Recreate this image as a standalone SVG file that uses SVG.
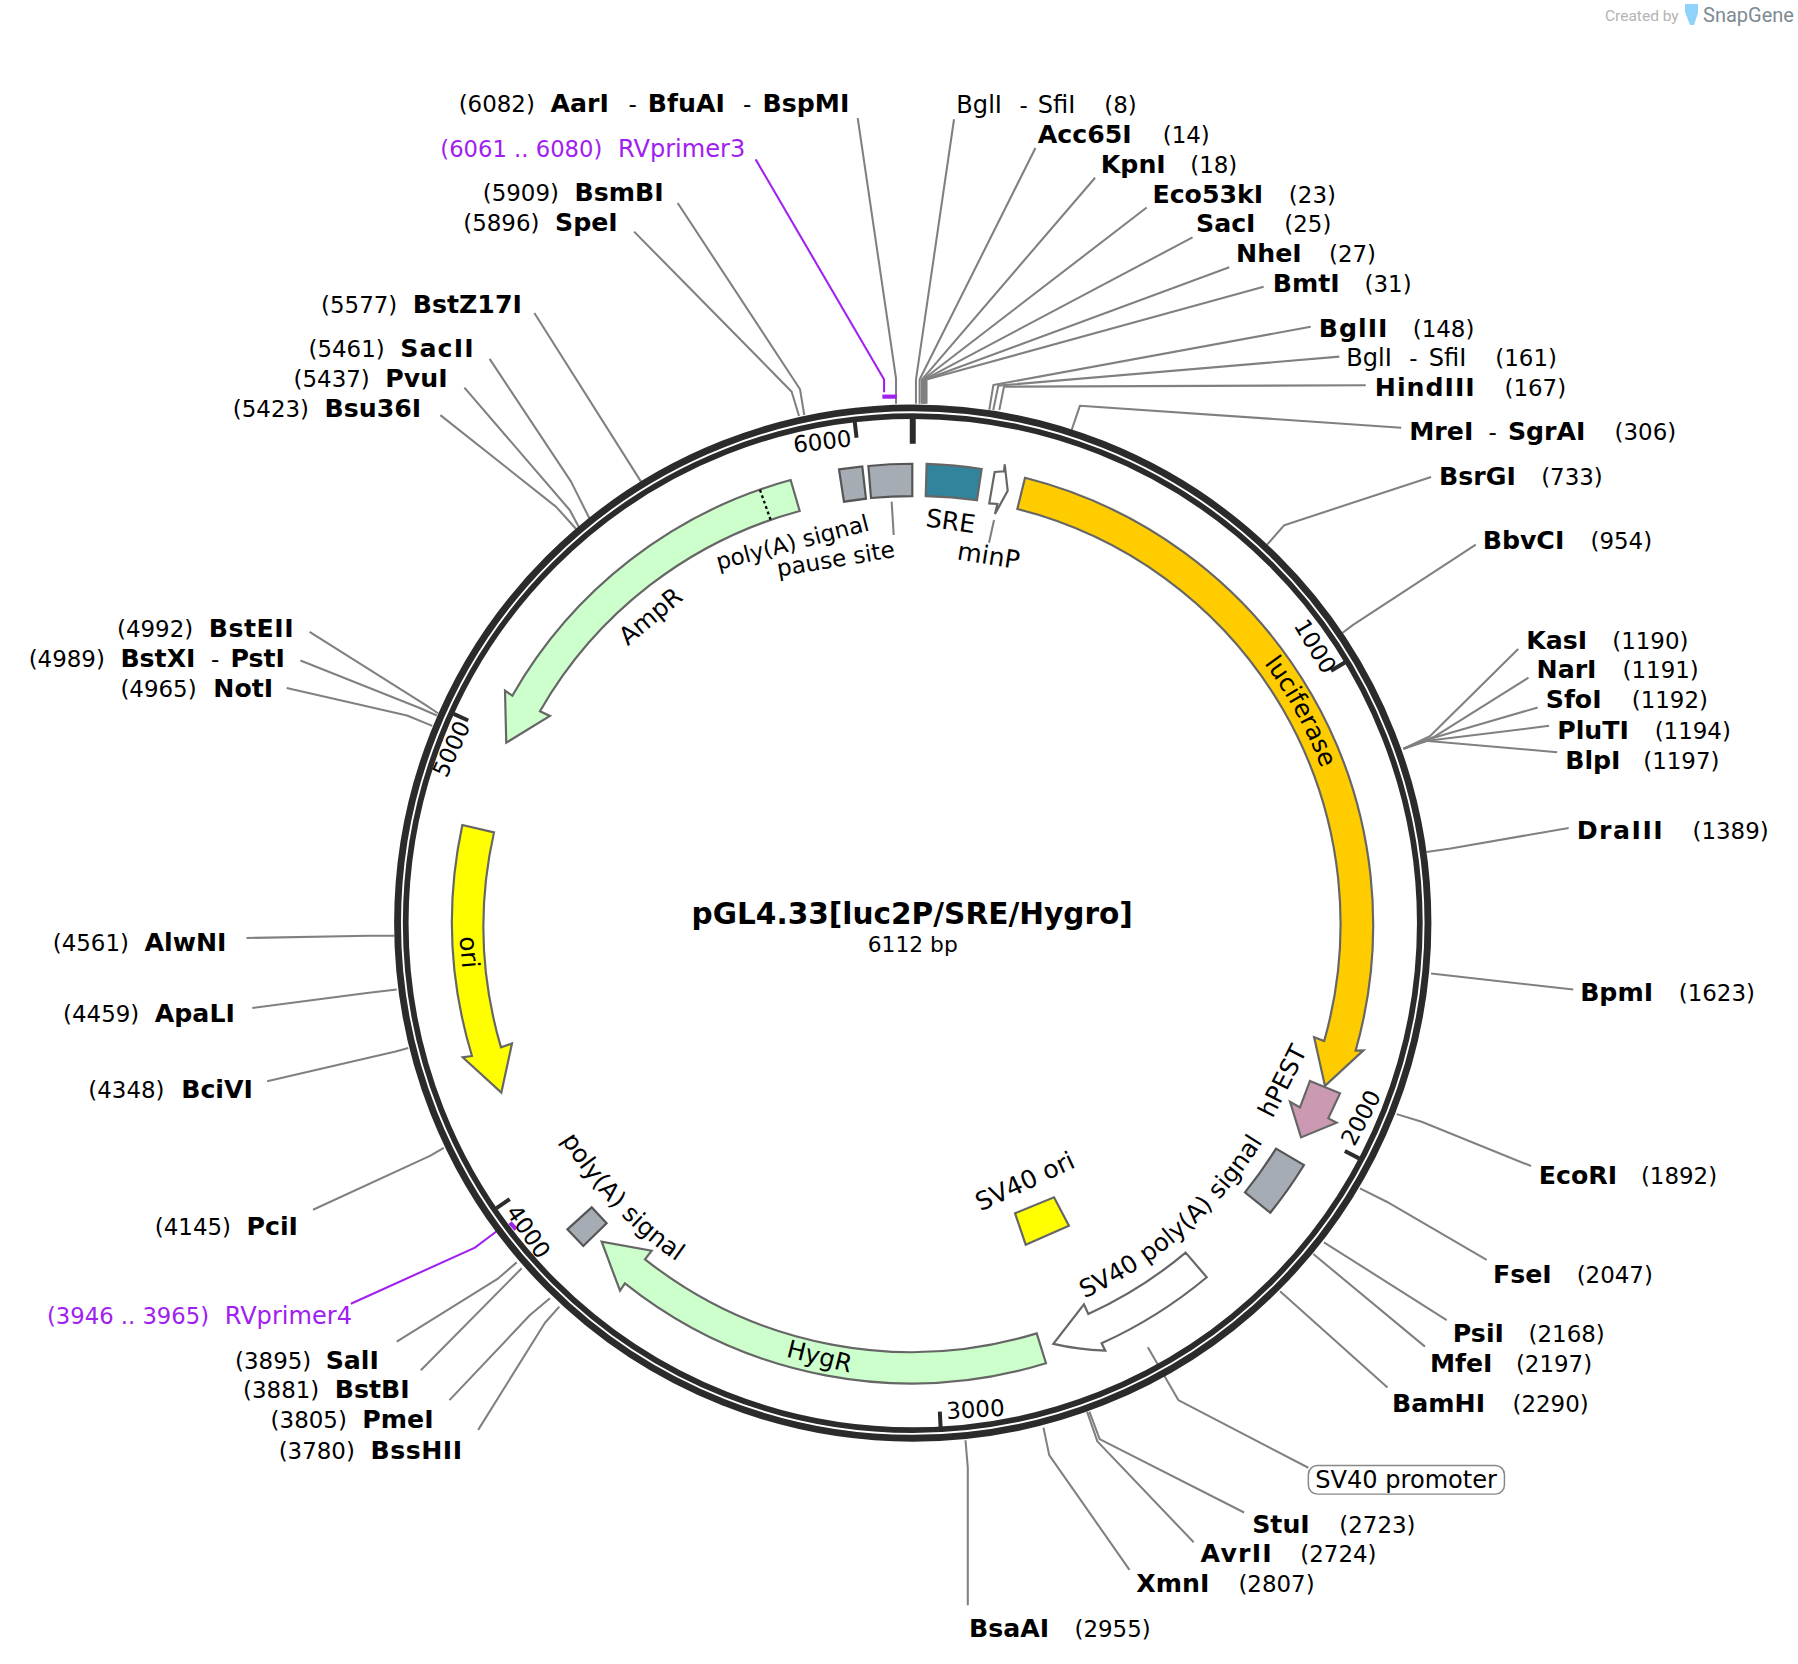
<svg xmlns="http://www.w3.org/2000/svg" xmlns:xlink="http://www.w3.org/1999/xlink" width="1798" height="1664" viewBox="0 0 1798 1664">
<style>
text{font-family:"DejaVu Sans","Liberation Sans",sans-serif;fill:#000}
.b{font-weight:bold;font-size:22px}
.n{font-size:20px}
.m{font-size:21px}
.l{font-size:21.5px}
.t{font-size:20px;text-anchor:middle}
.c{text-anchor:middle}
.p{font-size:19.8px;fill:#a020f0}
.q{font-size:21px;fill:#a020f0}
.lead{fill:none;stroke:#808080;stroke-width:1.8;stroke-linejoin:round}
.pl{fill:none;stroke:#a020f0;stroke-width:1.8}
.pb{fill:none;stroke:#a020f0;stroke-width:3.6}
.f{stroke:#666;stroke-width:1.9;stroke-linejoin:miter}
.g{fill:#a6acb3;stroke:#555}
.tick{stroke:#2b2b2b;stroke-width:3.5}
</style>
<defs>
<path id="aLuc" d="M1048 519.2A381 381 0 0 1 1172.7 748"/>
<path id="aSv" d="M866.5 1158A360 360 0 0 0 1137 920.4"/>
<path id="aPoly2" d="M445.8 888.4A360 360 0 0 0 693.1 1150"/>
</defs>
<rect width="1798" height="1664" fill="#fff"/>
<g id="snapgene">
<text x="1605" y="21" style="font-family:Roboto,sans-serif;font-size:15.5px;fill:#b4b4b4">Created by</text>
<path d="M1685 4H1698V13L1694 25H1690L1685 12Z" fill="#8fd3fb"/>
<text x="1703" y="22" style="font-family:Roboto,sans-serif;font-size:20px;fill:#7d8a94">SnapGene</text>
</g>
<g transform="scale(1.14668)">
<g id="connectors">
<polyline class="lead" points="748,103 781.4,330 781.4,352"/>
<polyline class="lead" points="832,104 798.8,331 798.8,352"/>
<polyline class="lead" points="903,129 802,331 802,352"/>
<polyline class="lead" points="955,155 804,331 804,352"/>
<polyline class="lead" points="1000,181 805,331 805,352"/>
<polyline class="lead" points="1040,207 806,331 806,352"/>
<polyline class="lead" points="1072,233 807,331 807,352"/>
<polyline class="lead" points="1102,250 808,331 808,352"/>
<polyline class="lead" points="1143,285 866.3,335.8 862.7,357.5"/>
<polyline class="lead" points="1168,311 870.6,336.3 866.2,357.5"/>
<polyline class="lead" points="1191,336 875.6,337.2 871.5,357.5"/>
<polyline class="lead" points="1222,373 941.8,353.8 934.6,375"/>
<polyline class="lead" points="1248,416 1120,458 1105,475"/>
<polyline class="lead" points="1287,475 1180,545 1168,554"/>
<polyline class="lead" points="1324,566 1247,642 1224,653"/>
<polyline class="lead" points="1333,591 1250,643 1224,653"/>
<polyline class="lead" points="1341,617 1245,645 1224,653"/>
<polyline class="lead" points="1351,633 1245,646 1224,653"/>
<polyline class="lead" points="1358,656 1243,646 1226,652"/>
<polyline class="lead" points="1368,722 1265,740 1244,743"/>
<polyline class="lead" points="1372,863 1248,849"/>
<polyline class="lead" points="1335.2,1016.9 1239.8,978.2 1218,971.6"/>
<polyline class="lead" points="1296.5,1098.8 1209.3,1048 1186,1036.3"/>
<polyline class="lead" points="1261.6,1151.2 1154.6,1083.4"/>
<polyline class="lead" points="1242.7,1174.4 1145.3,1093.6"/>
<polyline class="lead" points="1210,1210 1116.3,1126"/>
<polyline class="lead" points="1001,1175 1027.6,1221 1141,1280"/>
<polyline class="lead" points="1085,1319 959,1255 950,1231"/>
<polyline class="lead" points="1041,1345 957,1257 948,1231"/>
<polyline class="lead" points="985,1369 915,1269 910,1245"/>
<polyline class="lead" points="844,1400 844,1280 842,1256"/>
<polyline class="lead" points="417,1247 475.3,1153.5 487.8,1139.5"/>
<polyline class="lead" points="392,1221 462.2,1146.8 479.6,1132.2"/>
<polyline class="lead" points="367,1195 455,1106"/>
<polyline class="lead" points="346,1170 434.6,1114.8 450.6,1100.9"/>
<polyline class="lead" points="273,1055 375,1008 387,1001"/>
<polyline class="lead" points="233,943 345,917 356,914"/>
<polyline class="lead" points="220,879 320,866 346,863"/>
<polyline class="lead" points="215,818 322,816 344,816"/>
<polyline class="lead" points="250,600 355,624 377,633"/>
<polyline class="lead" points="262,576 365,617 381,624"/>
<polyline class="lead" points="270,551 370,614 382,622"/>
<polyline class="lead" points="384,362 485,442 503,462"/>
<polyline class="lead" points="405,338 497,445 505,460"/>
<polyline class="lead" points="427,313 498,420 514,452"/>
<polyline class="lead" points="466,273 559,420"/>
<polyline class="lead" points="553,202 690.4,341.6 696.8,362.8"/>
<polyline class="lead" points="591,177 697.7,339.5 701.4,361.9"/>
<polyline class="lead" points="866.9,453.5 862.5,473.3"/>
<polyline class="lead" points="777.6,437.5 779.4,466.6"/>
<polyline class="pl" points="659,139 771,331 771,342"/>
<line class="pb" x1="769.5" y1="345.9" x2="782" y2="345.9"/>
<polyline class="pl" points="306,1137 414.2,1088 434.6,1072.7"/>
<line class="pb" x1="444.8" y1="1066.3" x2="450" y2="1072"/>
</g>
<g id="backbone">
<circle cx="796" cy="805" r="446" fill="none" stroke="#2b2b2b" stroke-width="12.6"/>
<circle cx="796" cy="805" r="445.5" fill="none" stroke="#fff" stroke-width="1.6"/>
<line x1="796" y1="364.7" x2="796" y2="387" stroke="#2b2b2b" stroke-width="5.2"/>
<line class="tick" x1="1172.8" y1="577.7" x2="1160.8" y2="585"/>
<line class="tick" x1="1185.2" y1="1010.2" x2="1172.8" y2="1003.7"/>
<line class="tick" x1="820.3" y1="1245" x2="819.6" y2="1231"/>
<line class="tick" x1="433" y1="1053.6" x2="444.5" y2="1045.7"/>
<line class="tick" x1="395.6" y1="622.5" x2="408.3" y2="628.3"/>
<line class="tick" x1="745.4" y1="367.9" x2="747" y2="381.8"/>
<text class="t" transform="translate(718,392) rotate(-6.6)">6000</text>
<text class="t" transform="translate(1141,567) rotate(58.9)">1000</text>
<text class="t" transform="translate(1193,978) rotate(-62)">2000</text>
<text class="t" transform="translate(851,1236) rotate(-3.3)">3000</text>
<text class="t" transform="translate(455,1078) rotate(55.6)">4000</text>
<text class="t" transform="translate(400,656) rotate(-65.5)">5000</text>
</g>
<g id="title">
<text class="c" x="795.5" y="806" style="font-weight:bold;font-size:25.8px">pGL4.33[luc2P/SRE/Hygro]</text>
<text class="c" x="796" y="830" style="font-size:19px">6112 bp</text>
</g>
<g id="luciferase"><path class="f" fill="#ffcc00" d="M893.9 416.6A402 402 0 0 1 1182.2 916.3L1189 916L1155.5 947L1146 904.6L1154.8 907.8A373 373 0 0 0 887.2 443.9Z"/><text class="l"><textPath href="#aLuc" xlink:href="#aLuc" startOffset="50%" text-anchor="middle">luciferase</textPath></text></g>
<g id="hPEST"><path class="f" fill="#cc99b2" d="M1142.4 942.7L1168.6 953.5L1158.4 975.3L1165.7 979.1L1134.6 991.9L1125 960.8L1133.7 965.7Z"/><text class="l c" transform="translate(1125,946) rotate(-63)">hPEST</text></g>
<g id="SV40polyA"><path class="f g" d="M1112.8 1001.7L1137.2 1016A401 401 0 0 1 1107.8 1057.6L1085.7 1039.8A373 373 0 0 0 1112.8 1001.7Z"/><text class="l"><textPath href="#aSv" xlink:href="#aSv" startOffset="50%" text-anchor="middle">SV40 poly(A) signal</textPath></text></g>
<g id="SV40promoter"><path class="f" fill="#fff" stroke="#777" d="M1034 1092.4L1052.4 1113.9A401 401 0 0 1 960.7 1171.5L963.9 1177.9Q940 1177 918.6 1172L945.3 1137.4L949.1 1145.9A373 373 0 0 0 1034 1092.4Z"/>
<rect x="1141" y="1278" width="171" height="25" rx="8" fill="#fff" stroke="#888" stroke-width="1.3"/><text class="m" x="1147" y="1298">SV40 promoter</text></g>
<g id="SV40ori"><path class="f" fill="#ffff00" d="M885.2 1058.1L919.2 1044.2L932.2 1068.9L894.5 1085.5Z"/><text class="c" style="font-size:22px" transform="translate(897,1037) rotate(-25)">SV40 ori</text></g>
<g id="HygR"><path class="f" fill="#ccffcc" d="M912.2 1188.9A401 401 0 0 1 545 1119.2L540.7 1125.6L524.7 1082.9L568.3 1090.7L562.5 1098.2A374 374 0 0 0 904.1 1162.8Z"/><text class="l c" transform="translate(713,1190) rotate(14)">HygR</text></g>
<g id="polyA2"><path class="f g" d="M516 1052.9L529 1066.8L508.7 1086.6L494.8 1072.1Z"/><text class="l"><textPath href="#aPoly2" xlink:href="#aPoly2" startOffset="50%" text-anchor="middle">poly(A) signal</textPath></text></g>
<g id="ori"><path class="f" fill="#ffff00" d="M403.2 719.5A402 402 0 0 0 411.6 920.9L403.5 922.1L437.2 952.9L446.5 909.9L436.9 913.4A374 374 0 0 1 430.8 725.9Z"/><text class="l c" transform="translate(402,831) rotate(85)">ori</text></g>
<g id="AmpR"><path class="f" fill="#ccffcc" d="M689.5 418.6A401 401 0 0 0 446.8 606.7L440.4 602.3L441.5 647.7L479.6 624.4L470.9 620.3A373 373 0 0 1 697.4 445.6Z"/><line x1="662.8" y1="427.3" x2="672.1" y2="453.5" stroke="#000" stroke-width="2" stroke-dasharray="2.5 2.5"/><text class="l c" transform="translate(572,543) rotate(-40)">AmpR</text></g>
<g id="polyA1"><path class="f g" d="M731.7 409.3L752 406.7L755.2 434.9L736 437.5Z"/><text style="font-size:20px" transform="translate(626.5,497.1) rotate(-14.7)">poly(A) signal</text></g>
<g id="pausesite"><path class="f g" d="M757.3 406.4Q776 404.4 795.6 404.4V432.6Q777 432.6 759.6 434.3Z"/><text style="font-size:20.2px" transform="translate(678.8,503) rotate(-9.6)">pause site</text></g>
<g id="SRE"><path class="f" fill="#31849b" stroke="#444" d="M808.1 404.6Q833 405.5 856.1 409L852 436.3Q830 433 807.3 432.6Z"/><text class="c" style="font-size:22px" transform="translate(828,462) rotate(8)">SRE</text></g>
<g id="minP"><path class="f" fill="#fff" stroke="#777" d="M867.4 411.6L875.6 411L876.2 405L878.8 427.9L867.7 448.3L869.8 439.5L862.7 439Z"/><text class="c" style="font-size:22px" transform="translate(861,492) rotate(9)">minP</text></g>
<g id="labels" transform="translate(0,0.6)">
<g id="AarI"><text class="n" x="400" y="97">(6082)</text><text class="b" x="480" y="97">AarI</text><text class="n" x="548" y="97">-</text><text class="b" x="565" y="97">BfuAI</text><text class="n" x="648" y="97">-</text><text class="b" x="665" y="97">BspMI</text></g>
<g id="BglI8"><text class="m" x="834" y="98">BglI</text><text class="n" x="889" y="98">-</text><text class="m" x="905" y="98">SfiI</text><text class="n" x="963" y="98">(8)</text></g>
<g id="Acc65I"><text class="b" x="905" y="124">Acc65I</text><text class="n" x="1014" y="124">(14)</text></g>
<g id="KpnI"><text class="b" x="960" y="150">KpnI</text><text class="n" x="1038" y="150">(18)</text></g>
<g id="Eco53kI"><text class="b" x="1005" y="176">Eco53kI</text><text class="n" x="1124" y="176">(23)</text></g>
<g id="SacI"><text class="b" x="1043" y="202">SacI</text><text class="n" x="1120" y="202">(25)</text></g>
<g id="NheI"><text class="b" x="1078" y="228">NheI</text><text class="n" x="1159" y="228">(27)</text></g>
<g id="BmtI"><text class="b" x="1110" y="254">BmtI</text><text class="n" x="1190" y="254">(31)</text></g>
<g id="BglII"><text class="b" x="1150" y="293" textLength="60">BglII</text><text class="n" x="1232" y="293">(148)</text></g>
<g id="BglI161"><text class="m" x="1174" y="319">BglI</text><text class="n" x="1229" y="319">-</text><text class="m" x="1246" y="319">SfiI</text><text class="n" x="1304" y="319">(161)</text></g>
<g id="HindIII"><text class="b" x="1199" y="345" textLength="87">HindIII</text><text class="n" x="1312" y="345">(167)</text></g>
<g id="MreI"><text class="b" x="1229" y="383">MreI</text><text class="n" x="1298" y="383">-</text><text class="b" x="1315" y="383">SgrAI</text><text class="n" x="1408" y="383">(306)</text></g>
<g id="BsrGI"><text class="b" x="1255" y="422">BsrGI</text><text class="n" x="1344" y="422">(733)</text></g>
<g id="BbvCI"><text class="b" x="1293" y="478">BbvCI</text><text class="n" x="1387" y="478">(954)</text></g>
<g id="KasI"><text class="b" x="1331" y="565">KasI</text><text class="n" x="1406" y="565">(1190)</text></g>
<g id="NarI"><text class="b" x="1340" y="591">NarI</text><text class="n" x="1415" y="591">(1191)</text></g>
<g id="SfoI"><text class="b" x="1348" y="617">SfoI</text><text class="n" x="1423" y="617">(1192)</text></g>
<g id="PluTI"><text class="b" x="1358" y="644">PluTI</text><text class="n" x="1443" y="644">(1194)</text></g>
<g id="BlpI"><text class="b" x="1365" y="670">BlpI</text><text class="n" x="1433" y="670">(1197)</text></g>
<g id="DraIII"><text class="b" x="1375" y="731" textLength="75">DraIII</text><text class="n" x="1476" y="731">(1389)</text></g>
<g id="BpmI"><text class="b" x="1378" y="872">BpmI</text><text class="n" x="1464" y="872">(1623)</text></g>
<g id="EcoRI"><text class="b" x="1342" y="1032">EcoRI</text><text class="n" x="1431" y="1032">(1892)</text></g>
<g id="FseI"><text class="b" x="1302" y="1118">FseI</text><text class="n" x="1375" y="1118">(2047)</text></g>
<g id="PsiI"><text class="b" x="1267" y="1170">PsiI</text><text class="n" x="1333" y="1170">(2168)</text></g>
<g id="MfeI"><text class="b" x="1247" y="1196">MfeI</text><text class="n" x="1322" y="1196">(2197)</text></g>
<g id="BamHI"><text class="b" x="1214" y="1231">BamHI</text><text class="n" x="1319" y="1231">(2290)</text></g>
<g id="StuI"><text class="b" x="1092" y="1336">StuI</text><text class="n" x="1168" y="1336">(2723)</text></g>
<g id="AvrII"><text class="b" x="1047" y="1362" textLength="62">AvrII</text><text class="n" x="1134" y="1362">(2724)</text></g>
<g id="XmnI"><text class="b" x="991" y="1388">XmnI</text><text class="n" x="1080" y="1388">(2807)</text></g>
<g id="BsaAI"><text class="b" x="845" y="1427">BsaAI</text><text class="n" x="937" y="1427">(2955)</text></g>
<g id="BssHII"><text class="n" x="243" y="1272">(3780)</text><text class="b" x="323" y="1272" textLength="80">BssHII</text></g>
<g id="PmeI"><text class="n" x="236" y="1245">(3805)</text><text class="b" x="316" y="1245">PmeI</text></g>
<g id="BstBI"><text class="n" x="212" y="1219">(3881)</text><text class="b" x="292" y="1219">BstBI</text></g>
<g id="SalI"><text class="n" x="205" y="1193">(3895)</text><text class="b" x="284" y="1193">SalI</text></g>
<g id="RVprimer4"><text class="p" x="41" y="1154">(3946 .. 3965)</text><text class="q" x="196" y="1154">RVprimer4</text></g>
<g id="PciI"><text class="n" x="135" y="1076">(4145)</text><text class="b" x="215" y="1076">PciI</text></g>
<g id="BciVI"><text class="n" x="77" y="957">(4348)</text><text class="b" x="158" y="957">BciVI</text></g>
<g id="ApaLI"><text class="n" x="55" y="891">(4459)</text><text class="b" x="135" y="891">ApaLI</text></g>
<g id="AlwNI"><text class="n" x="46" y="829">(4561)</text><text class="b" x="126" y="829">AlwNI</text></g>
<g id="NotI"><text class="n" x="105" y="607">(4965)</text><text class="b" x="186" y="607">NotI</text></g>
<g id="BstXI"><text class="n" x="25" y="581">(4989)</text><text class="b" x="105" y="581">BstXI</text><text class="n" x="184" y="581">-</text><text class="b" x="201" y="581">PstI</text></g>
<g id="BstEII"><text class="n" x="102" y="555">(4992)</text><text class="b" x="182" y="555" textLength="74">BstEII</text></g>
<g id="Bsu36I"><text class="n" x="203" y="363">(5423)</text><text class="b" x="283" y="363">Bsu36I</text></g>
<g id="PvuI"><text class="n" x="256" y="337">(5437)</text><text class="b" x="336" y="337">PvuI</text></g>
<g id="SacII"><text class="n" x="269" y="311">(5461)</text><text class="b" x="349" y="311" textLength="64">SacII</text></g>
<g id="BstZ17I"><text class="n" x="280" y="272">(5577)</text><text class="b" x="360" y="272">BstZ17I</text></g>
<g id="SpeI"><text class="n" x="404" y="201">(5896)</text><text class="b" x="484" y="201">SpeI</text></g>
<g id="BsmBI"><text class="n" x="421" y="175">(5909)</text><text class="b" x="501" y="175">BsmBI</text></g>
<g id="RVprimer3"><text class="p" x="384" y="136">(6061 .. 6080)</text><text class="q" x="539" y="136">RVprimer3</text></g>
</g>
</g>
</svg>
